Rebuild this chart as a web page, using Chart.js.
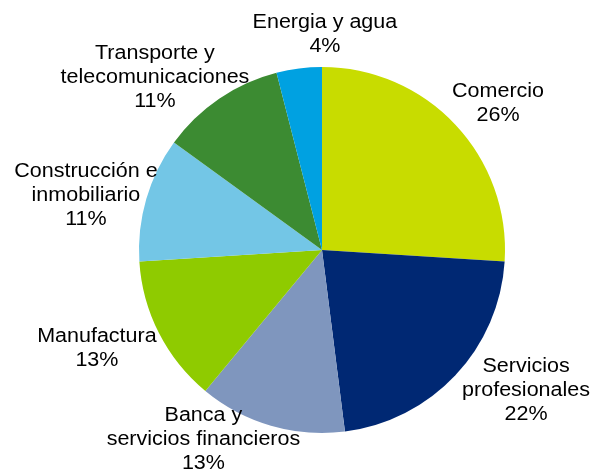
<!DOCTYPE html>
<html>
<head>
<meta charset="utf-8">
<script src="https://cdn.jsdelivr.net/npm/chart.js@4/dist/chart.umd.min.js"></script>
<style>
html,body{margin:0;padding:0;background:#fff;}
#wrap{width:602px;height:474px;position:relative;}
</style>
</head>
<body>
<div id="wrap"><canvas id="c" width="602" height="474"></canvas></div>
<script>
const categories = [
  ["Comercio"],
  ["Servicios", "profesionales"],
  ["Banca y", "servicios financieros"],
  ["Manufactura"],
  ["Construcción e", "inmobiliario"],
  ["Transporte y", "telecomunicaciones"],
  ["Energia y agua"]
];
const shares = [26, 22, 13, 13, 11, 11, 4];
const sliceColors = ["#C8DC00", "#002873", "#7F96BE", "#8FCB00", "#73C6E6", "#3C8B32", "#00A1E1"];

// label block centres relative to pie centre, in units of the radius
const labelOffsets = [
  [0.962, -0.803],
  [1.115, 0.765],
  [-0.648, 1.038],
  [-1.23, 0.538],
  [-1.29, -0.30],
  [-0.913, -0.945],
  [0.016, -1.175]
];

const labelPlugin = {
  id: 'outLabels',
  afterDraw(chart) {
    const ctx = chart.ctx;
    const meta = chart.getDatasetMeta(0);
    const lh = 24;
    meta.data.forEach((arc, i) => {
      const r = arc.outerRadius;
      const cx = arc.x + labelOffsets[i][0] * r;
      const cy = arc.y + labelOffsets[i][1] * r;
      const lines = categories[i].concat([shares[i] + '%']);
      const top = -(lines.length - 1) * lh / 2;
      ctx.save();
      ctx.translate(cx, cy);
      ctx.scale(1.075, 1);
      ctx.font = '20px "Liberation Sans", Arial, sans-serif';
      ctx.fillStyle = '#000';
      ctx.textAlign = 'center';
      ctx.textBaseline = 'middle';
      lines.forEach((t, k) => ctx.fillText(t, 0, top + k * lh));
      ctx.restore();
    });
  }
};

new Chart(document.getElementById('c'), {
  type: 'pie',
  data: {
    labels: categories.map(l => l.join(' ')),
    datasets: [{
      data: shares,
      backgroundColor: sliceColors,
      borderWidth: 0
    }]
  },
  options: {
    responsive: false,
    animation: false,
    layout: { padding: { left: 139, right: 97, top: 67, bottom: 41 } },
    plugins: { legend: { display: false }, tooltip: { enabled: false } }
  },
  plugins: [labelPlugin]
});
</script>
</body>
</html>
